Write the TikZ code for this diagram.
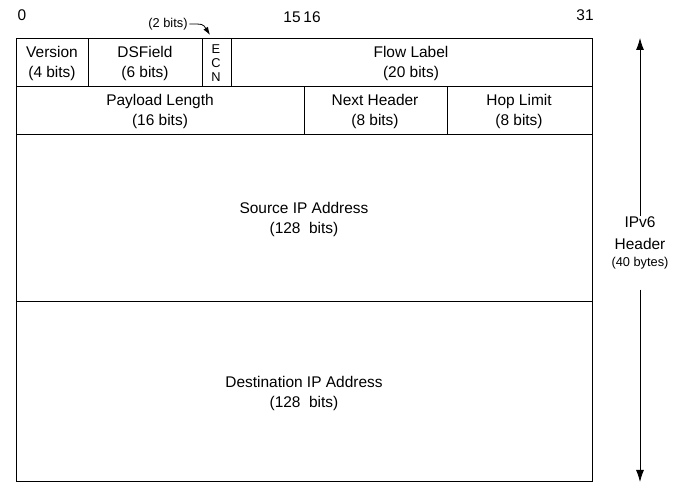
\documentclass[tikz,border=0pt]{standalone}
\usepackage{fontspec}
\setmainfont{Liberation Sans}
\usetikzlibrary{arrows.meta}

\begin{document}
\begin{tikzpicture}[x=0.75pt,y=-0.75pt,line width=0.75pt,
    every node/.style={font=\fontsize{11.6}{14.3}\selectfont,align=center,inner sep=1pt},
    tiny/.style={font=\fontsize{9.6}{10.5}\selectfont},
    >={Latex[length=9pt,width=6pt]}]
  \useasboundingbox (0,0) rectangle (682,498);
  % header fields
  \foreach \l / \r / \t / \b in {16/88/39/87, 88/202/39/87, 202/231/39/87, 231/592/39/87,
      16/304/87/135, 304/447/87/135, 447/592/87/135, 16/592/135/302, 16/592/302/482}
     \draw (\l,\t) rectangle (\r,\b);
  \node (ver) at (52,63.5) {Version\\(4 bits)};
  \node (dsf) at (145,63.5) {DSField\\(6 bits)};
  \node[tiny] (ecn) at (216,63) {E\\C\\N};
  \node (flow) at (411,63.5) {Flow Label\\(20 bits)};
  \node (plen) at (160,111.5) {Payload Length\\(16 bits)};
  \node (nxt) at (375,111.5) {Next Header\\(8 bits)};
  \node (hop) at (519,111.5) {Hop Limit\\(8 bits)};
  \node (src) at (304,219.5) {Source IP Address\\(128~~bits)};
  \node (dst) at (304,393.5) {Destination IP Address\\(128~~bits)};
  % bit positions
  \node (b0) at (22,15) {0};
  \node (b15) at (292,17) {15};
  \node (b16) at (312,17) {16};
  \node (b31) at (585,15) {31};
  \node[tiny] (two) at (168,24) {(2 bits)};
  \draw[line width=0.6pt,-{Latex[length=6pt,width=4pt]}] (two.east) .. controls (203,24) .. (210,35);
  % total length
  \node[font=\fontsize{11.6}{16}\selectfont] (hdr) at (640,243)
    {IPv6\\Header\\[-3pt]{\fontsize{9.6}{13}\selectfont(40 bytes)}};
  \coordinate (top) at (640,38);
  \coordinate (bot) at (640,482);
  \draw[line width=0.6pt,->] ([yshift=-1pt]hdr.north) -- (top);
  \draw[line width=0.6pt,->] ([yshift=-14pt]hdr.south) -- (bot);
\end{tikzpicture}
\end{document}
